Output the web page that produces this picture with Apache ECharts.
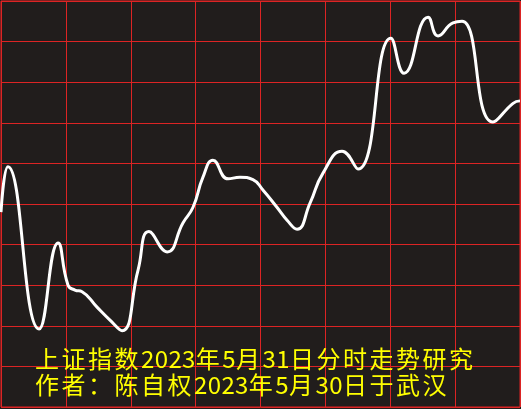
<!DOCTYPE html>
<html>
<head>
<meta charset="utf-8">
<script src="https://cdn.jsdelivr.net/npm/echarts@6/dist/echarts.min.js"></script>
<style>
  html, body { margin: 0; padding: 0; background: #211d1c; }
  #chart { width: 521px; height: 409px; }
</style>
</head>
<body>
<div id="chart"></div>
<script>
// 分时走势：分钟 (0~240) 与 指数点位
const minutes = [0, 3.2, 17.6, 26.4, 31.0, 34.2, 37.5, 44.4, 50.4, 56.0, 63.4, 68.4, 76.8, 84.2, 88.8, 93.4,
  98.0, 105.0, 110.5, 116.5, 121.2, 127.6, 132.3, 136.9, 142.9, 148.9, 157.7, 165.1, 180.3,
  186.4, 197.5, 202.1, 209.0, 213.2, 227.5, 236.8, 240]
const prices = [3214.0, 3219.6, 3199.6, 3210.2, 3205.0, 3204.4, 3204.2, 3202.3, 3200.7, 3199.4, 3206.9, 3211.6,
  3209.1, 3212.7, 3214.6, 3218.3, 3220.4, 3218.1, 3218.3, 3218.0, 3216.7, 3214.6, 3213.0, 3211.9,
  3215.1, 3218.8, 3221.5, 3219.3, 3235.4, 3231.1, 3238.0, 3235.7, 3237.3, 3237.5,
  3225.1, 3227.4, 3227.7]
const titleLines = ['上证指数2023年5月31日分时走势研究', '作者：陈自权2023年5月30日于武汉']

const red = '#dc2424'
const yellow = '#ffff00'

// 每个字单独占一格，模仿原图的字距
function spaced (s) {
  return s.split('').map(ch => /[0-9]/.test(ch) ? '{d|' + ch + '}' : '{c|' + ch + '}').join('')
}

const chart = echarts.init(document.getElementById('chart'))
const option = {
  backgroundColor: '#211d1c',
  animation: false,
  title: {
    text: titleLines.map(spaced).join('\n'),
    left: 30,
    top: 341,
    textStyle: {
      fontWeight: 'normal',
      rich: {
        c: { width: 26.5, fontSize: 24, lineHeight: 26, fontWeight: 'normal', color: yellow, fontFamily: 'Noto Sans CJK SC' },
        d: { width: 13.7, fontSize: 24, lineHeight: 26, fontWeight: 'normal', color: yellow, fontFamily: 'Noto Sans CJK SC' }
      }
    }
  },
  grid: {
    left: 1,
    right: 1,
    top: 1,
    bottom: 2,
    show: true,
    borderColor: red,
    borderWidth: 1
  },
  xAxis: {
    type: 'value',
    min: 0,
    max: 240,
    interval: 30,
    axisLine: { show: false },
    axisTick: { show: false },
    axisLabel: { show: false },
    splitLine: { show: true, lineStyle: { color: red, width: 1 } }
  },
  yAxis: {
    type: 'value',
    min: 3190,
    max: 3240,
    interval: 5,
    axisLine: { show: false },
    axisTick: { show: false },
    axisLabel: { show: false },
    splitLine: { show: true, lineStyle: { color: red, width: 1 } }
  },
  series: [
    {
      type: 'line',
      data: minutes.map((m, i) => [m, prices[i]]),
      smooth: 0.5,
      showSymbol: false,
      lineStyle: { color: '#ffffff', width: 3 }
    }
  ]
}
chart.setOption(option)
</script>
</body>
</html>
